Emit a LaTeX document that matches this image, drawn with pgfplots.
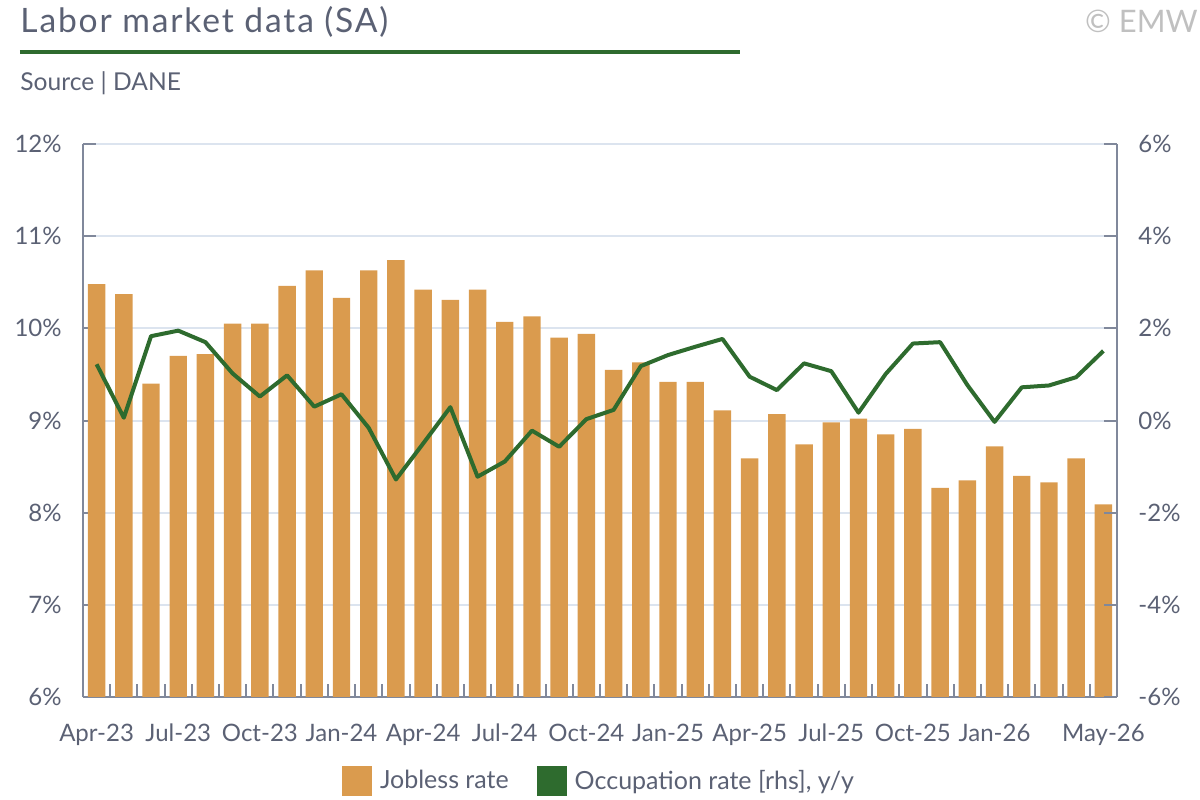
\documentclass[border=0pt]{standalone}
\usepackage{fontspec}
\setmainfont{Lato}
\newfontfamily\titlefont[LetterSpace=5.5]{Lato}
\usepackage{pgfplots}
\usepackage{pgfplotstable}
\pgfplotsset{compat=1.18}
\definecolor{barc}{HTML}{DA9B4E}
\definecolor{linec}{HTML}{2E6B2E}
\definecolor{gridc}{HTML}{DCE4EF}
\definecolor{axc}{HTML}{80889B}
\definecolor{txtc}{HTML}{5B6174}
\definecolor{copyc}{HTML}{C0C0C0}

\pgfplotstableread{
x y
0 10.48
1 10.37
2 9.40
3 9.70
4 9.72
5 10.05
6 10.05
7 10.46
8 10.63
9 10.33
10 10.63
11 10.74
12 10.42
13 10.31
14 10.42
15 10.07
16 10.13
17 9.90
18 9.94
19 9.55
20 9.63
21 9.42
22 9.42
23 9.11
24 8.59
25 9.07
26 8.74
27 8.98
28 9.02
29 8.85
30 8.91
31 8.27
32 8.35
33 8.72
34 8.40
35 8.33
36 8.59
37 8.09
}\jobless

\pgfplotstableread{
x y
0 1.22
1 0.06
2 1.83
3 1.95
4 1.70
5 1.02
6 0.52
7 0.98
8 0.30
9 0.57
10 -0.16
11 -1.28
12 -0.50
13 0.29
14 -1.22
15 -0.89
16 -0.22
17 -0.57
18 0.03
19 0.23
20 1.18
21 1.42
22 1.60
23 1.77
24 0.95
25 0.66
26 1.24
27 1.07
28 0.17
29 1.01
30 1.67
31 1.70
32 0.77
33 -0.03
34 0.72
35 0.76
36 0.94
37 1.51
}\occup

\begin{document}
\begin{tikzpicture}
\useasboundingbox (-41.5bp,-51.5bp) rectangle (558.5bp,348.5bp);
\node[anchor=base west, inner sep=0, text=txtc, font=\titlefont\fontsize{16.8bp}{20bp}\selectfont] at (-31.5bp,332bp) {Labor market data (SA)};
\node[anchor=base east, inner sep=0, text=copyc, font=\fontsize{15.5bp}{18bp}\selectfont] at (557.5bp,332bp) {© EMW};
\draw[linec, line width=2bp] (-31.5bp,322.5bp) -- (328.5bp,322.5bp);
\node[anchor=base west, inner sep=0, text=txtc, font=\fontsize{12.3bp}{14bp}\selectfont] at (-31.5bp,303bp) {Source | DANE};

\begin{axis}[
  at={(0,0)}, anchor=south west, scale only axis,
  width=517bp, height=276.5bp,
  xmin=-0.5, xmax=37.5, ymin=6, ymax=12,
  axis y line*=left, axis x line*=bottom,
  axis line style={axc, line width=1bp},
  tick align=inside,
  major tick length=6.5bp,
  tick style={axc, line width=1bp},
  ytick={6,7,8,9,10,11,12},
  yticklabels={6\%,7\%,8\%,9\%,10\%,11\%,12\%},
  ymajorgrids, grid style={gridc, line width=1bp},
  xtick={0.5,1.5,...,36.5},
  xticklabels={},
  extra x ticks={0,3,6,9,12,15,18,21,24,27,30,33,37},
  extra x tick labels={Apr-23,Jul-23,Oct-23,Jan-24,Apr-24,Jul-24,Oct-24,Jan-25,Apr-25,Jul-25,Oct-25,Jan-26,May-26},
  extra x tick style={major tick length=0pt, tick style={draw=none}, grid=none},
  ticklabel style={text=txtc, font=\fontsize{12bp}{14bp}\selectfont},
  xticklabel style={anchor=base, yshift=-22.35bp, inner sep=0},
  yticklabel style={anchor=east, xshift=-10.5bp, inner sep=0},
]
\addplot[ybar, bar width=0.64, fill=barc, draw=none] table[x=x,y=y] {\jobless};
\end{axis}

\begin{axis}[
  at={(0,0)}, anchor=south west, scale only axis,
  width=517bp, height=276.5bp,
  xmin=-0.5, xmax=37.5, ymin=-6, ymax=6,
  axis y line*=right, axis x line=none,
  axis line style={axc, line width=1bp},
  tick align=inside,
  major tick length=6.5bp,
  tick style={axc, line width=1bp},
  ytick={-6,-4,-2,0,2,4,6},
  yticklabels={-6\%,-4\%,-2\%,0\%,2\%,4\%,6\%},
  ticklabel style={text=txtc, font=\fontsize{12bp}{14bp}\selectfont},
  yticklabel style={anchor=west, xshift=10.5bp, inner sep=0},
  legend style={at={(0.5,0)}, anchor=center, yshift=-42bp, draw=none, fill=none,
    legend columns=2, font=\fontsize{12.5bp}{15bp}\selectfont, text=txtc,
    /tikz/every odd column/.append style={column sep=2bp},
    /tikz/every even column/.append style={column sep=12bp}},
  legend image code/.code={\fill[#1] (0bp,-7.5bp) rectangle (15bp,7.5bp);},
]
\addlegendimage{fill=barc, draw=none}
\addlegendentry{Jobless rate}
\addplot[linec, line width=2bp, line join=round, forget plot] table[x=x,y=y] {\occup};
\addlegendimage{fill=linec, draw=none}
\addlegendentry{Occupation rate [rhs], y/y}
\end{axis}
\end{tikzpicture}
\end{document}
